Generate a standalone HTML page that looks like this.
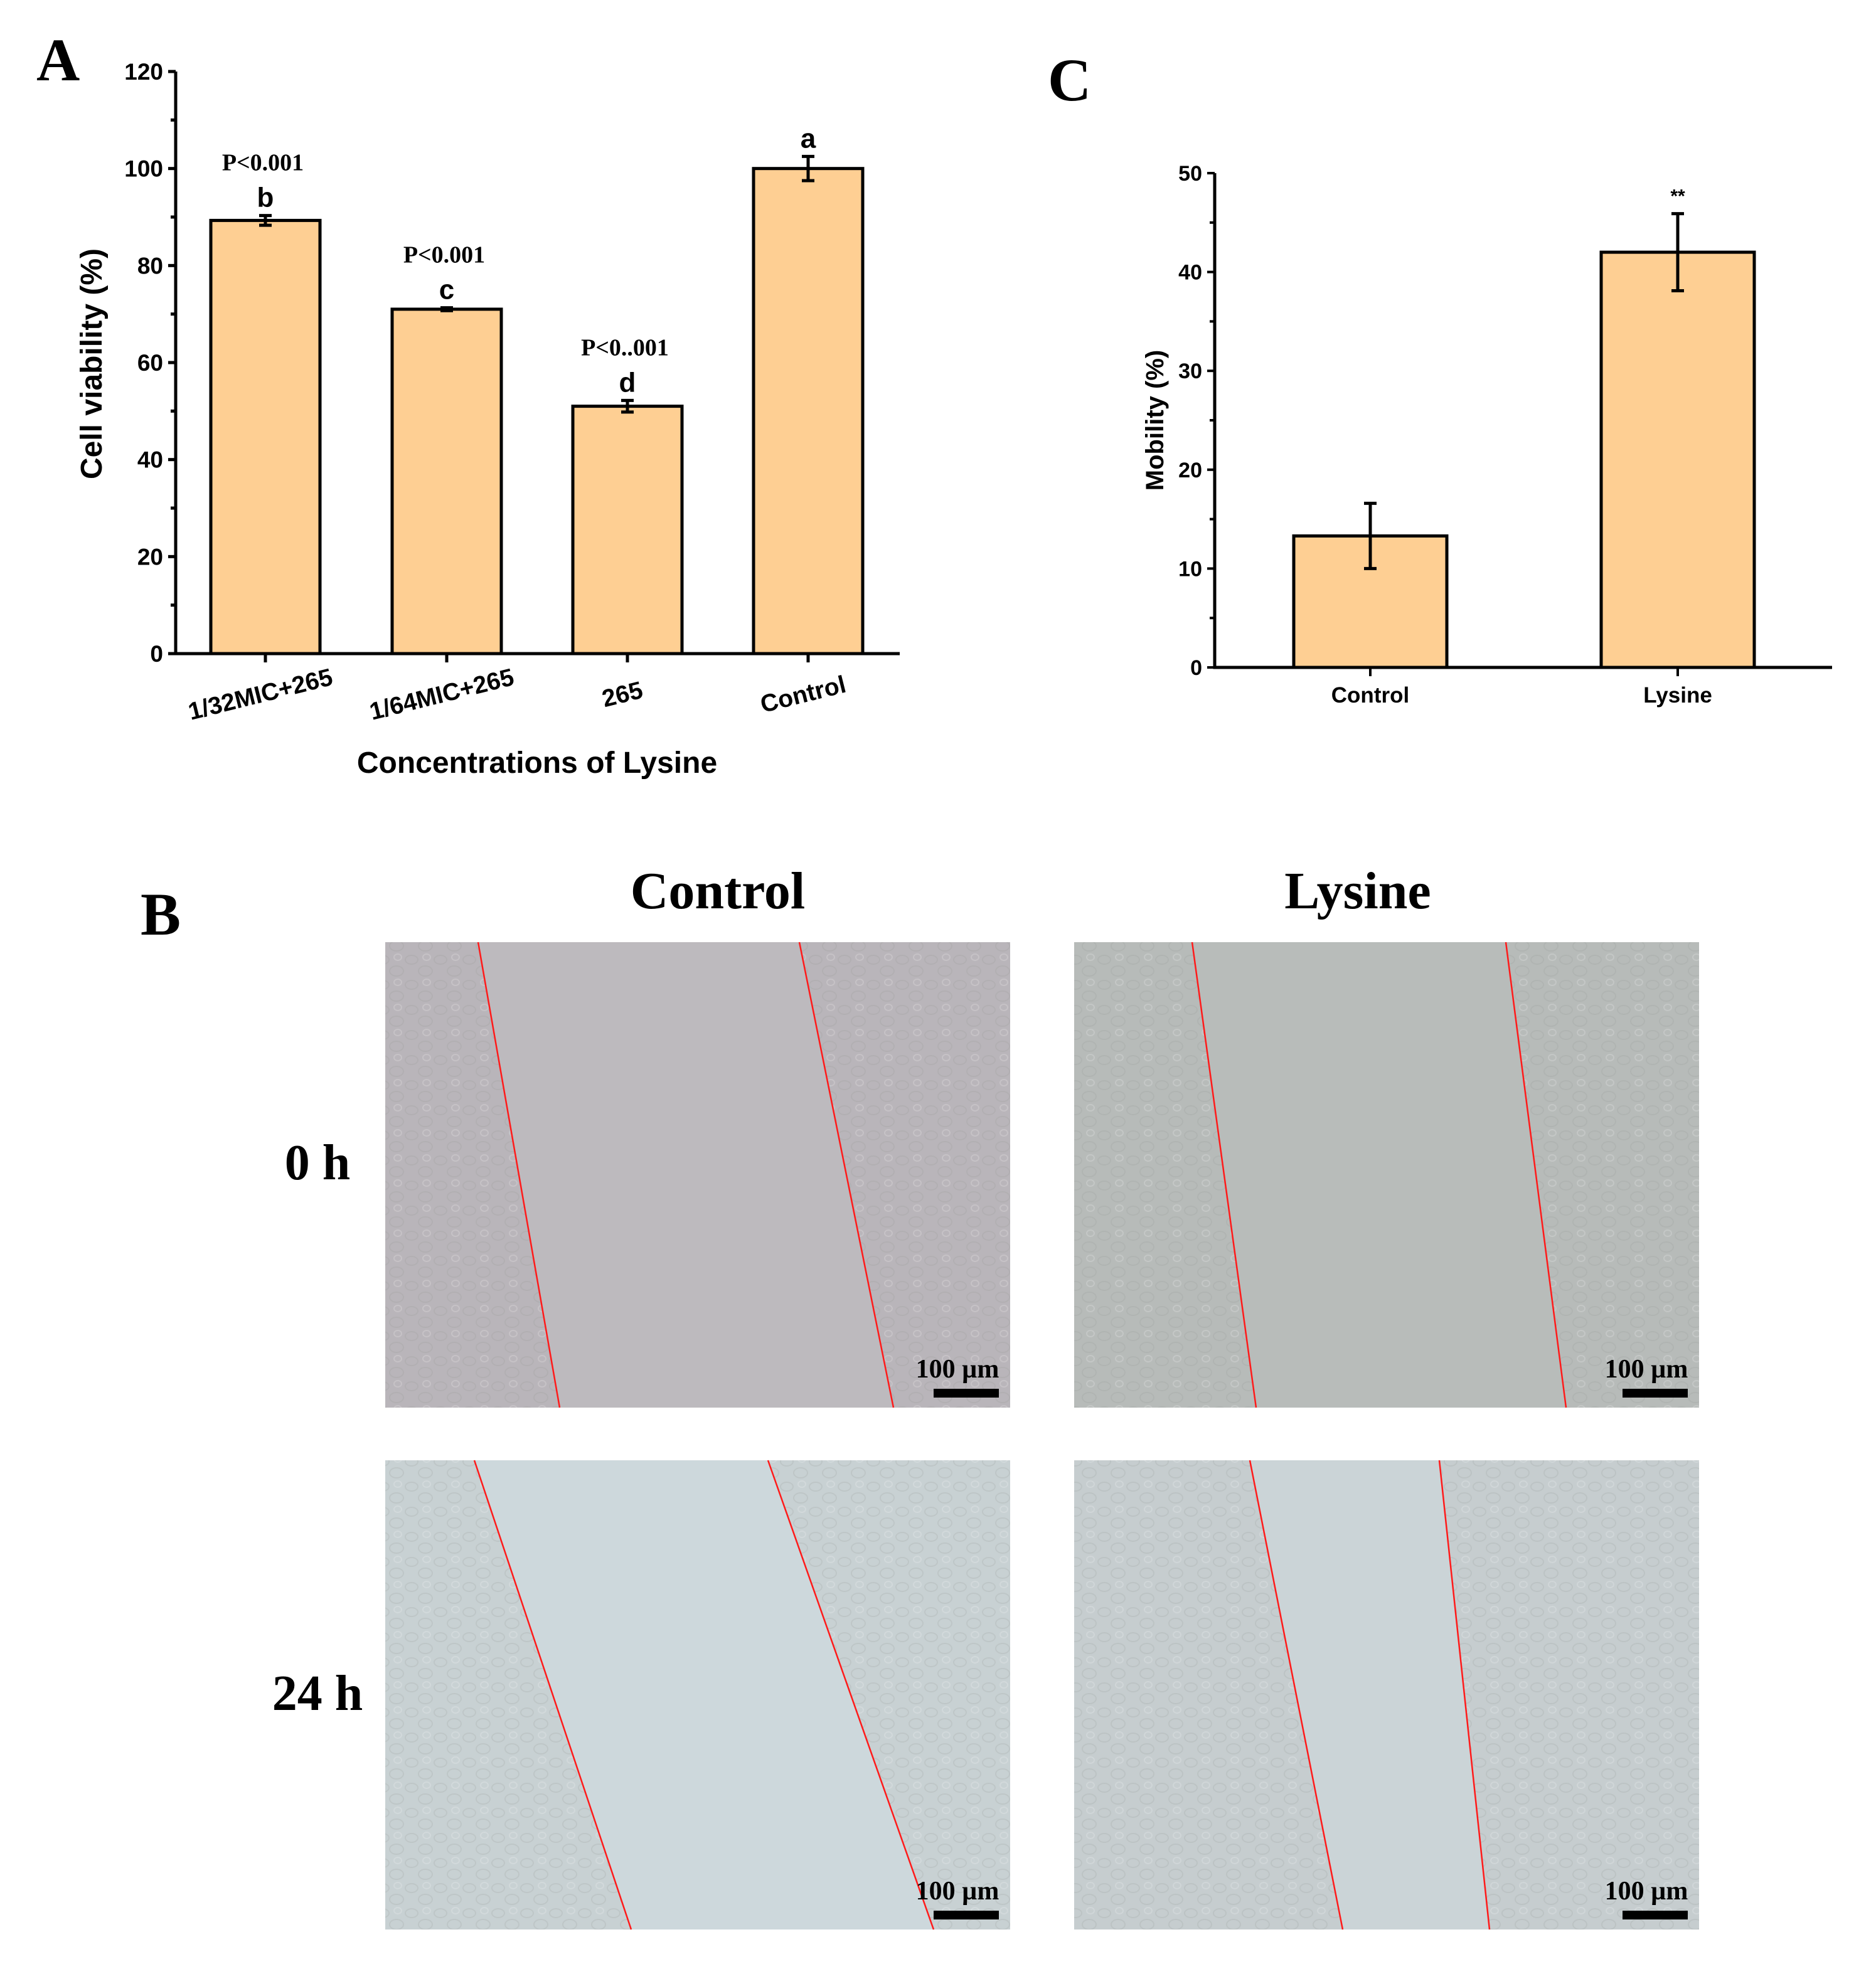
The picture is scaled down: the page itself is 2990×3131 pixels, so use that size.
<!DOCTYPE html>
<html><head><meta charset="utf-8"><style>
html,body{margin:0;padding:0;background:#fff}
svg{display:block}
.ax{font-family:"Liberation Sans",sans-serif;font-weight:bold}
.sr{font-family:"Liberation Serif",serif;font-weight:bold}
</style></head><body>
<svg id="fig" width="2990" height="3131" viewBox="0 0 2990 3131" xmlns="http://www.w3.org/2000/svg">
<defs>
<pattern id="cells" width="46" height="40" patternUnits="userSpaceOnUse">
<ellipse cx="12" cy="10" rx="10" ry="7" fill="none" stroke="#8f9593" stroke-opacity="0.18" stroke-width="2"/>
<ellipse cx="34" cy="28" rx="11" ry="8" fill="none" stroke="#8f9593" stroke-opacity="0.18" stroke-width="2"/>
<ellipse cx="36" cy="6" rx="6" ry="5" fill="none" stroke="#ffffff" stroke-opacity="0.18" stroke-width="2"/>
</pattern>
</defs>
<text x="58" y="128" class="sr" font-size="96">A</text>
<text x="1670" y="160" class="sr" font-size="96">C</text>
<text x="224" y="1490" class="sr" font-size="96">B</text>
<g id="chartA"></g>
<g id="chartC"></g>
<g id="panelB"></g>
</svg>
<script>
const NS="http://www.w3.org/2000/svg";
function mk(parent,tag,attrs,text){const e=document.createElementNS(NS,tag);for(const k in attrs)e.setAttribute(k,attrs[k]);if(text!==undefined)e.textContent=text;parent.appendChild(e);return e;}

// ---- Chart A data ----
const aCategories=["1/32MIC+265","1/64MIC+265","265","Control"];
const aValues=[89.3,71,51,100];
const aErrors=[1.0,0.3,1.2,2.5];
const aLetters=["b","c","d","a"];
const aPvals=["P<0.001","P<0.001","P<0..001",""];
const aTicks=[0,20,40,60,80,100,120];

// ---- Chart C data ----
const cCategories=["Control","Lysine"];
const cValues=[13.3,42];
const cErrors=[3.3,3.9];
const cMarks=["","**"];
const cTicks=[0,10,20,30,40,50];

(function(){
const g=document.getElementById('chartA');
const x0=280,x1=1434,yb=1042,yt=114,ymax=120;
const y=v=>yb-(v/ymax)*(yb-yt);
const centers=[423,712,1000,1288],bw=174;
aTicks.forEach(t=>{
 const l=mk(g,'line',{x1:x0-12,x2:x0,y1:y(t),y2:y(t),stroke:'#000','stroke-width':5});
 
 const tx=mk(g,'text',{x:x0-20,y:y(t)+13,'text-anchor':'end','font-size':37,class:'ax'},t);
 
 if(t<ymax){const m=mk(g,'line',{x1:x0-8,x2:x0,y1:y(t+10),y2:y(t+10),stroke:'#000','stroke-width':5});
 }
});
aValues.forEach((v,i)=>{
 const cx=centers[i];
 const r=mk(g,'rect',{x:cx-bw/2,y:y(v),width:bw,height:yb-y(v),fill:'#fecf93',stroke:'#000','stroke-width':5});
 
 
 const e=aErrors[i];
 const eb=mk(g,'path',{d:`M${cx-10},${y(v+e)}H${cx+10}M${cx},${y(v+e)}V${y(v-e)}M${cx-10},${y(v-e)}H${cx+10}`,stroke:'#000','stroke-width':5,fill:'none'});
 
 const lt=mk(g,'text',{x:cx,y:y(v+e)-14,'text-anchor':'middle','font-size':44,class:'ax'},aLetters[i]);
 
 if(aPvals[i]){const pt=mk(g,'text',{x:cx-4,y:y(v+e)-72,'text-anchor':'middle','font-size':38,class:'sr'},aPvals[i]);
 }
 const tk=mk(g,'line',{x1:cx,x2:cx,y1:yb,y2:yb+14,stroke:'#000','stroke-width':5});
 
 const xl=mk(g,'text',{x:cx-8,y:yb+76,'text-anchor':'middle','font-size':39,class:'ax',transform:`rotate(-14 ${cx} ${yb+64})`},aCategories[i]);
 
});
const ax=mk(g,'path',{d:`M${x0},${yt}V${yb}H${x1}`,stroke:'#000','stroke-width':5,fill:'none'});

const xt=mk(g,'text',{x:856,y:1232,'text-anchor':'middle','font-size':48,class:'ax'},'Concentrations of Lysine');

const yt2=mk(g,'text',{x:0,y:0,'text-anchor':'middle','font-size':48,class:'ax',transform:'translate(162,580) rotate(-90)'},'Cell viability (%)');

})();

(function(){
const g=document.getElementById('chartC');
const x0=1936,x1=2920,yb=1064,yt=276,ymax=50;
const y=v=>yb-(v/ymax)*(yb-yt);
const centers=[2184,2674],bw=244;
cTicks.forEach(t=>{
 const l=mk(g,'line',{x1:x0-12,x2:x0,y1:y(t),y2:y(t),stroke:'#000','stroke-width':4});
 
 const tx=mk(g,'text',{x:x0-20,y:y(t)+12,'text-anchor':'end','font-size':34,class:'ax'},t);
 
 if(t<ymax){const m=mk(g,'line',{x1:x0-8,x2:x0,y1:y(t+5),y2:y(t+5),stroke:'#000','stroke-width':4});
 }
});
cValues.forEach((v,i)=>{
 const cx=centers[i];
 const r=mk(g,'rect',{x:cx-bw/2,y:y(v),width:bw,height:yb-y(v),fill:'#fecf93',stroke:'#000','stroke-width':5});
 
 
 const e=cErrors[i];
 const eb=mk(g,'path',{d:`M${cx-10},${y(v+e)}H${cx+10}M${cx},${y(v+e)}V${y(v-e)}M${cx-10},${y(v-e)}H${cx+10}`,stroke:'#000','stroke-width':5,fill:'none'});
 
 if(cMarks[i]){const s=mk(g,'text',{x:cx,y:y(v+e)-18,'text-anchor':'middle','font-size':30,class:'ax','font-weight':'normal'},cMarks[i]);
 }
 const tk=mk(g,'line',{x1:cx,x2:cx,y1:yb,y2:yb+14,stroke:'#000','stroke-width':4});
 
 const xl=mk(g,'text',{x:cx,y:yb+56,'text-anchor':'middle','font-size':35,class:'ax'},cCategories[i]);
 
});
const ax=mk(g,'path',{d:`M${x0},${yt}V${yb}H${x1}`,stroke:'#000','stroke-width':5,fill:'none'});

const yt2=mk(g,'text',{x:0,y:0,'text-anchor':'middle','font-size':40,class:'ax',transform:'translate(1854,670) rotate(-90)'},'Mobility (%)');

})();

(function(){
const g=document.getElementById('panelB');
const h1=mk(g,'text',{x:1144,y:1448,'text-anchor':'middle','font-size':84,class:'sr'},'Control');

const h2=mk(g,'text',{x:2164,y:1448,'text-anchor':'middle','font-size':84,class:'sr'},'Lysine');

const r1=mk(g,'text',{x:506,y:1880,'text-anchor':'middle','font-size':80,class:'sr'},'0 h');

const r2=mk(g,'text',{x:506,y:2726,'text-anchor':'middle','font-size':80,class:'sr'},'24 h');

const imgs=[
 {x:614,y:1502,h:742,cell:'#b9b5ba',gap:'#bdbabe',l:[762,892,1274,1424],n:'control-0h'},
 {x:1712,y:1502,h:742,cell:'#b7bbb9',gap:'#b8bcba',l:[1900,2002,2400,2496],n:'lysine-0h'},
 {x:614,y:2328,h:748,cell:'#c8d1d3',gap:'#cdd8dc',l:[756,1006,1224,1488],n:'control-24h'},
 {x:1712,y:2328,h:748,cell:'#c6cdcf',gap:'#cbd4d7',l:[1992,2140,2294,2374],n:'lysine-24h'}];
imgs.forEach(im=>{
 const w=996;
 const gi=mk(g,'g',{});
 
 mk(gi,'rect',{x:im.x,y:im.y,width:w,height:im.h,fill:im.cell});
 mk(gi,'rect',{x:im.x,y:im.y,width:w,height:im.h,fill:'url(#cells)'});
 mk(gi,'polygon',{points:`${im.l[0]},${im.y} ${im.l[2]},${im.y} ${im.l[3]},${im.y+im.h} ${im.l[1]},${im.y+im.h}`,fill:im.gap});
 const a=mk(gi,'line',{x1:im.l[0],y1:im.y,x2:im.l[1],y2:im.y+im.h,stroke:'#ff1a1a','stroke-width':2.5});
 
 const b=mk(gi,'line',{x1:im.l[2],y1:im.y,x2:im.l[3],y2:im.y+im.h,stroke:'#ff1a1a','stroke-width':2.5});
 
 const sb=mk(gi,'rect',{x:im.x+w-122,y:im.y+im.h-30,width:104,height:14,fill:'#000'});
 
 const st=mk(gi,'text',{x:im.x+w-84,y:im.y+im.h-48,'text-anchor':'middle','font-size':42,class:'sr'},'100 µm');
 
});
})();
</script>
</body></html>
